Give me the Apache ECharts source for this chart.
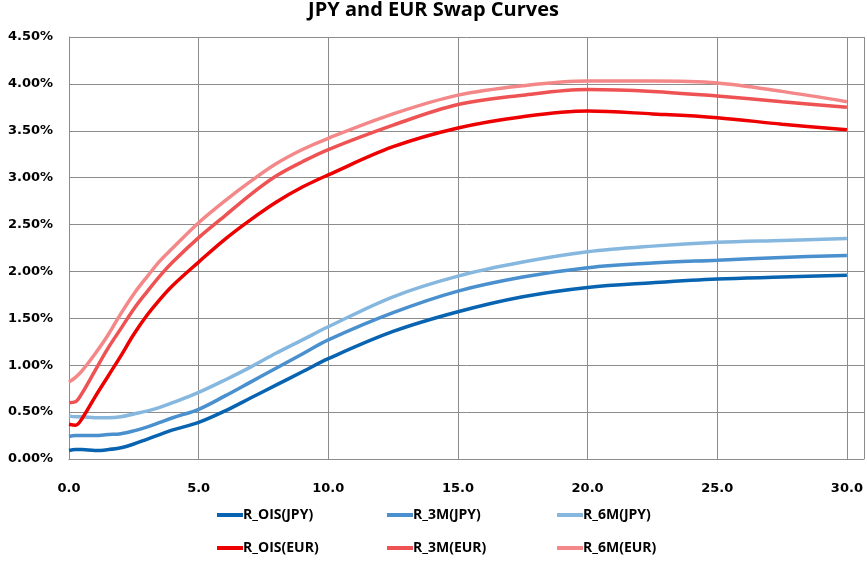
<!DOCTYPE html>
<html>
<head>
<meta charset="utf-8">
<script src="https://cdn.jsdelivr.net/npm/echarts@6/dist/echarts.min.js"></script>
<style>
html,body{margin:0;padding:0;background:#fff;}
#chart{width:867px;height:565px;}
</style>
</head>
<body>
<div id="chart"></div>
<script>
// Tenors (years)
var tenors = [0, 0.25, 0.5, 1, 1.5, 2, 2.5, 3, 3.5, 4, 5, 6, 7, 8, 9, 10, 12.5, 15, 17.5, 20, 22.5, 25, 27.5, 30];
// Rates in percent
var oisJPY = [0.09, 0.10, 0.10, 0.09, 0.10, 0.12, 0.16, 0.21, 0.26, 0.31, 0.39, 0.51, 0.65, 0.79, 0.93, 1.07, 1.36, 1.57, 1.73, 1.83, 1.88, 1.92, 1.94, 1.96];
var m3JPY  = [0.24, 0.25, 0.25, 0.25, 0.26, 0.27, 0.30, 0.34, 0.39, 0.44, 0.53, 0.67, 0.82, 0.97, 1.12, 1.27, 1.56, 1.79, 1.94, 2.04, 2.09, 2.12, 2.15, 2.17];
var m6JPY  = [0.46, 0.45, 0.45, 0.44, 0.44, 0.45, 0.48, 0.51, 0.55, 0.60, 0.71, 0.84, 0.98, 1.13, 1.27, 1.41, 1.73, 1.95, 2.10, 2.21, 2.27, 2.31, 2.33, 2.35];
var oisEUR = [0.37, 0.36, 0.43, 0.66, 0.88, 1.10, 1.33, 1.53, 1.70, 1.85, 2.10, 2.34, 2.55, 2.74, 2.90, 3.03, 3.33, 3.53, 3.65, 3.71, 3.68, 3.64, 3.57, 3.51];
var m3EUR  = [0.60, 0.61, 0.70, 0.94, 1.18, 1.39, 1.60, 1.78, 1.95, 2.10, 2.36, 2.59, 2.82, 3.02, 3.17, 3.30, 3.56, 3.78, 3.88, 3.94, 3.92, 3.87, 3.81, 3.75];
var m6EUR  = [0.82, 0.87, 0.94, 1.12, 1.32, 1.55, 1.76, 1.94, 2.11, 2.25, 2.52, 2.75, 2.96, 3.15, 3.30, 3.42, 3.68, 3.88, 3.98, 4.03, 4.03, 4.01, 3.92, 3.81];

var seriesNames = ['R_OIS(JPY)', 'R_3M(JPY)', 'R_6M(JPY)', 'R_OIS(EUR)', 'R_3M(EUR)', 'R_6M(EUR)'];
var seriesValues = [oisJPY, m3JPY, m6JPY, oisEUR, m3EUR, m6EUR];
var seriesColors = ['#0864B1', '#4A90CE', '#86B7DF', '#EE0000', '#EF5252', '#F48888'];

var chart = echarts.init(document.getElementById('chart'), null, {renderer: 'canvas'});

var legends = seriesNames.map(function (n, i) {
  return {
    data: [n],
    left: 217 + 170 * (i % 3),
    top: i < 3 ? 508 : 541,
    icon: 'rect',
    itemWidth: 26,
    itemHeight: 4,
    itemGap: 0,
    padding: 0,
    textStyle: {
      fontFamily: 'Open Sans',
      fontWeight: 'bold',
      fontSize: 14,
      color: '#000',
      padding: [0, 0, 0, -5]
    }
  };
});

var option = {
  backgroundColor: '#fff',
  animation: false,
  title: {
    text: 'JPY and EUR Swap Curves',
    left: 'center',
    top: 0,
    padding: 0,
    textStyle: {
      fontFamily: 'Open Sans',
      fontWeight: 'bold',
      fontSize: 20,
      color: '#000'
    }
  },
  legend: legends,
  grid: {left: 69, right: 0, top: 37, bottom: 106, containLabel: false},
  xAxis: {
    type: 'value',
    min: 0,
    max: 30.66,
    interval: 5,
    axisLine: {show: true, lineStyle: {color: '#8c8c8c', width: 1}},
    axisTick: {show: false},
    splitLine: {show: true, lineStyle: {color: '#8c8c8c', width: 1}},
    axisLabel: {
      margin: 23,
      fontFamily: 'DejaVu Sans',
      fontWeight: 'bold',
      fontSize: 13,
      color: '#000',
      formatter: function (v) { return v % 5 === 0 ? v.toFixed(1) : ''; }
    }
  },
  yAxis: {
    type: 'value',
    min: 0,
    max: 4.5,
    interval: 0.5,
    axisLine: {show: true, lineStyle: {color: '#8c8c8c', width: 1}},
    axisTick: {show: false},
    splitLine: {show: true, lineStyle: {color: '#8c8c8c', width: 1}},
    axisLabel: {
      margin: 16,
      fontFamily: 'DejaVu Sans',
      fontWeight: 'bold',
      fontSize: 13,
      color: '#000',
      formatter: function (v) { return v.toFixed(2) + '%'; }
    }
  },
  series: seriesNames.map(function (n, i) {
    return {
      name: n,
      type: 'line',
      smooth: 0.35,
      symbol: 'none',
      showSymbol: false,
      color: seriesColors[i],
      lineStyle: {color: seriesColors[i], width: 3.5},
      data: tenors.map(function (t, k) { return [t, seriesValues[i][k]]; })
    };
  })
};

chart.setOption(option);
</script>
</body>
</html>
